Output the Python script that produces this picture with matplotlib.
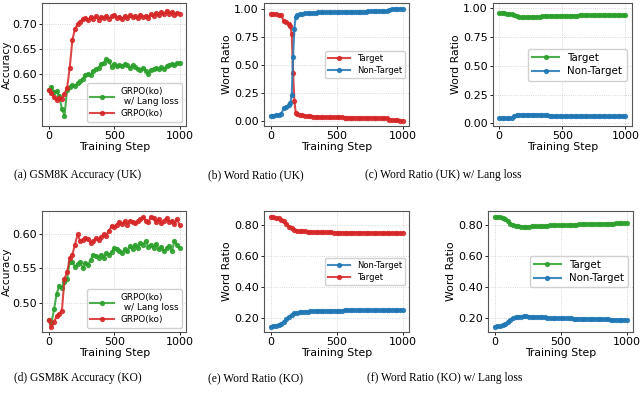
import matplotlib
matplotlib.use("Agg")
import matplotlib.pyplot as plt

# x axis (training step) for most series
steps = list(range(0, 1001, 20))
# panel (b) has extra points around the sharp switch
steps_b = [0, 20, 40, 60, 80, 100, 120, 140, 150, 160, 170, 180, 190] + list(range(200, 1001, 20))

# (a) GSM8K accuracy (UK)
acc_uk_lang = [0.567, 0.574, 0.563, 0.566, 0.555, 0.530, 0.516, 0.568, 0.573, 0.578,
               0.575, 0.582, 0.585, 0.590, 0.597, 0.600, 0.598, 0.606, 0.610, 0.612,
               0.620, 0.622, 0.630, 0.625, 0.614, 0.620, 0.616, 0.618, 0.615, 0.620,
               0.617, 0.612, 0.618, 0.613, 0.610, 0.608, 0.612, 0.606, 0.600, 0.608,
               0.610, 0.612, 0.609, 0.613, 0.610, 0.615, 0.618, 0.620, 0.617, 0.622, 0.621]
acc_uk_base = [0.567, 0.562, 0.553, 0.548, 0.552, 0.550, 0.560, 0.572, 0.612, 0.668,
               0.690, 0.700, 0.705, 0.710, 0.712, 0.708, 0.714, 0.711, 0.716, 0.709,
               0.714, 0.712, 0.717, 0.711, 0.716, 0.718, 0.713, 0.715, 0.710, 0.716,
               0.713, 0.718, 0.714, 0.716, 0.712, 0.719, 0.715, 0.717, 0.713, 0.720,
               0.716, 0.722, 0.718, 0.724, 0.720, 0.727, 0.721, 0.725, 0.719, 0.723, 0.721]

# (b) word ratio (UK)
ratio_uk_target = [0.955, 0.953, 0.950, 0.946, 0.940, 0.885, 0.876, 0.862, 0.840, 0.770,
                   0.430, 0.180, 0.072,
                   0.062, 0.053, 0.048, 0.044, 0.041, 0.039, 0.037, 0.036, 0.035, 0.034, 0.033,
                   0.033, 0.032, 0.032, 0.031, 0.031, 0.030, 0.030, 0.029, 0.029, 0.029,
                   0.028, 0.028, 0.028, 0.027, 0.027, 0.027, 0.026, 0.026, 0.026, 0.025,
                   0.025, 0.025, 0.024, 0.024, 0.010, 0.006, 0.004, 0.003, 0.002, 0.002]
ratio_uk_nontarget = [0.045, 0.047, 0.050, 0.055, 0.060, 0.115, 0.124, 0.138, 0.160, 0.230,
                      0.565, 0.820, 0.928,
                      0.938, 0.947, 0.952, 0.956, 0.959, 0.961, 0.963, 0.964, 0.965, 0.966, 0.967,
                      0.967, 0.968, 0.968, 0.969, 0.969, 0.970, 0.970, 0.971, 0.971, 0.971,
                      0.972, 0.972, 0.972, 0.973, 0.973, 0.973, 0.974, 0.974, 0.974, 0.975,
                      0.975, 0.975, 0.976, 0.976, 0.990, 0.994, 0.996, 0.997, 0.998, 0.998]

# (c) word ratio (UK) w/ lang loss
ratio_uk_lang_target = [0.955, 0.955, 0.955, 0.954, 0.953, 0.950, 0.940, 0.930, 0.926, 0.925,
                        0.925, 0.925, 0.925, 0.926, 0.926, 0.927, 0.928, 0.929, 0.931, 0.932,
                        0.933, 0.934, 0.934, 0.935, 0.935, 0.936, 0.936, 0.936, 0.937, 0.937,
                        0.937, 0.937, 0.938, 0.938, 0.938, 0.938, 0.938, 0.939, 0.939, 0.939,
                        0.939, 0.939, 0.939, 0.940, 0.940, 0.940, 0.940, 0.940, 0.940, 0.940, 0.940]
ratio_uk_lang_nontarget = [0.045, 0.045, 0.045, 0.046, 0.047, 0.050, 0.060, 0.070, 0.074, 0.075,
                           0.075, 0.075, 0.075, 0.074, 0.074, 0.073, 0.072, 0.071, 0.069, 0.068,
                           0.067, 0.066, 0.066, 0.065, 0.065, 0.064, 0.064, 0.064, 0.063, 0.063,
                           0.063, 0.063, 0.062, 0.062, 0.062, 0.062, 0.062, 0.061, 0.061, 0.061,
                           0.061, 0.061, 0.061, 0.060, 0.060, 0.060, 0.060, 0.060, 0.060, 0.060, 0.060]

# (d) GSM8K accuracy (KO)
acc_ko_lang = [0.474, 0.470, 0.490, 0.513, 0.525, 0.522, 0.530, 0.535, 0.560, 0.560,
               0.552, 0.557, 0.560, 0.550, 0.558, 0.555, 0.563, 0.570, 0.568, 0.566,
               0.570, 0.566, 0.572, 0.570, 0.574, 0.580, 0.578, 0.576, 0.573, 0.578,
               0.575, 0.583, 0.578, 0.585, 0.580, 0.588, 0.585, 0.590, 0.582, 0.585,
               0.580, 0.586, 0.578, 0.582, 0.575, 0.580, 0.583, 0.575, 0.590, 0.585, 0.580]
acc_ko_base = [0.474, 0.465, 0.472, 0.480, 0.484, 0.488, 0.535, 0.545, 0.565, 0.570,
               0.585, 0.600, 0.590, 0.592, 0.595, 0.593, 0.588, 0.590, 0.594, 0.592,
               0.596, 0.600, 0.598, 0.605, 0.612, 0.610, 0.614, 0.618, 0.615, 0.619,
               0.614, 0.620, 0.618, 0.616, 0.620, 0.622, 0.625, 0.620, 0.618, 0.626,
               0.624, 0.618, 0.622, 0.616, 0.620, 0.624, 0.618, 0.620, 0.615, 0.622, 0.613]

# (e) word ratio (KO)
ratio_ko_nontarget = [0.142, 0.145, 0.149, 0.154, 0.162, 0.174, 0.190, 0.207, 0.219, 0.228,
                      0.233, 0.236, 0.238, 0.239, 0.240, 0.241, 0.242, 0.243, 0.243, 0.244,
                      0.244, 0.245, 0.245, 0.245, 0.246, 0.246, 0.246, 0.246, 0.247, 0.247,
                      0.247, 0.247, 0.247, 0.248, 0.248, 0.248, 0.248, 0.248, 0.249, 0.249,
                      0.249, 0.249, 0.249, 0.249, 0.250, 0.250, 0.250, 0.250, 0.250, 0.250, 0.250]
ratio_ko_target = [0.858, 0.855, 0.851, 0.846, 0.838, 0.826, 0.810, 0.793, 0.781, 0.772,
                   0.767, 0.764, 0.762, 0.761, 0.760, 0.759, 0.758, 0.757, 0.757, 0.756,
                   0.756, 0.755, 0.755, 0.755, 0.754, 0.754, 0.754, 0.754, 0.753, 0.753,
                   0.753, 0.753, 0.753, 0.752, 0.752, 0.752, 0.752, 0.752, 0.751, 0.751,
                   0.751, 0.751, 0.751, 0.751, 0.750, 0.750, 0.750, 0.750, 0.750, 0.750, 0.750]

# (f) word ratio (KO) w/ lang loss
ratio_ko_lang_target = [0.855, 0.854, 0.852, 0.848, 0.840, 0.826, 0.810, 0.800, 0.794, 0.791,
                        0.790, 0.789, 0.789, 0.790, 0.791, 0.792, 0.793, 0.794, 0.795, 0.796,
                        0.797, 0.798, 0.799, 0.799, 0.800, 0.800, 0.801, 0.801, 0.802, 0.802,
                        0.803, 0.803, 0.804, 0.804, 0.805, 0.805, 0.806, 0.806, 0.807, 0.807,
                        0.808, 0.808, 0.809, 0.809, 0.810, 0.810, 0.811, 0.811, 0.812, 0.812, 0.812]
ratio_ko_lang_nontarget = [0.145, 0.146, 0.148, 0.152, 0.160, 0.174, 0.190, 0.200, 0.206, 0.209,
                           0.210, 0.211, 0.211, 0.210, 0.209, 0.208, 0.207, 0.206, 0.205, 0.204,
                           0.203, 0.202, 0.201, 0.201, 0.200, 0.200, 0.199, 0.199, 0.198, 0.198,
                           0.197, 0.197, 0.196, 0.196, 0.195, 0.195, 0.194, 0.194, 0.193, 0.193,
                           0.192, 0.192, 0.191, 0.191, 0.190, 0.190, 0.189, 0.189, 0.188, 0.188, 0.188]

captions = ["(a) GSM8K Accuracy (UK)", "(b) Word Ratio (UK)", "(c) Word Ratio (UK) w/ Lang loss",
            "(d) GSM8K Accuracy (KO)", "(e) Word Ratio (KO)", "(f) Word Ratio (KO) w/ Lang loss"]

RED = "#d62728"
GREEN = "#2ca02c"
BLUE = "#1f77b4"

plt.rcParams["font.family"] = "DejaVu Sans"
plt.rcParams["font.size"] = 8

fig = plt.figure(figsize=(6.4, 3.93), dpi=100)

# axes boxes in figure fractions [left, bottom, width, height]
boxes = [
    [0.066, 0.679, 0.225, 0.313],
    [0.4125, 0.679, 0.227, 0.313],
    [0.770, 0.679, 0.217, 0.313],
    [0.066, 0.155, 0.225, 0.308],
    [0.4125, 0.155, 0.227, 0.308],
    [0.7625, 0.155, 0.227, 0.308],
]
caption_x = [78, 256, 443, 78, 255, 445]
caption_y = [175, 175, 175, 378, 378, 378]


def draw(ax, series, yticks, legend_loc, legend_size):
    for x, y, c, lab in series:
        ax.plot(x, y, color=c, marker="o", markersize=2.8, linewidth=1.5,
                alpha=0.85, label=lab)
    ax.set_xticks([0, 500, 1000])
    ax.set_yticks(yticks)
    ax.yaxis.set_major_formatter(matplotlib.ticker.FormatStrFormatter("%.2f"))
    ax.grid(True, linestyle=":", color="#cccccc", linewidth=0.6)
    ax.tick_params(labelsize=8.0, length=2.5, width=0.6, pad=1.2)
    ax.set_xlabel("Training Step", fontsize=7.8, labelpad=0.5)
    for s in ax.spines.values():
        s.set_color("#555555")
        s.set_linewidth(0.8)
    ax.legend(loc=legend_loc, fontsize=legend_size, handlelength=2.6,
              borderpad=0.4, labelspacing=0.35, framealpha=0.9)


axs = [fig.add_axes(b) for b in boxes]

draw(axs[0], [(steps, acc_uk_lang, GREEN, "GRPO(ko)\n w/ Lang loss"),
              (steps, acc_uk_base, RED, "GRPO(ko)")],
     [0.55, 0.60, 0.65, 0.70], "lower right", 6.4)
axs[0].set_ylabel("Accuracy", fontsize=7.6, labelpad=0.3)
axs[0].set_ylim(0.495, 0.742)

draw(axs[1], [(steps_b, ratio_uk_target, RED, "Target"),
              (steps_b, ratio_uk_nontarget, BLUE, "Non-Target")],
     [0.0, 0.25, 0.5, 0.75, 1.0], "center right", 6.0)
axs[1].set_ylabel("Word Ratio", fontsize=7.8, labelpad=1.5)

draw(axs[2], [(steps, ratio_uk_lang_target, GREEN, "Target"),
              (steps, ratio_uk_lang_nontarget, BLUE, "Non-Target")],
     [0.0, 0.25, 0.5, 0.75, 1.0], "center right", 7.4)
axs[2].set_ylabel("Word Ratio", fontsize=7.8, labelpad=1.5)
axs[2].set_ylim(-0.025, 1.045)

draw(axs[3], [(steps, acc_ko_lang, GREEN, "GRPO(ko)\n w/ Lang loss"),
              (steps, acc_ko_base, RED, "GRPO(ko)")],
     [0.50, 0.55, 0.60], "lower right", 6.4)
axs[3].set_ylabel("Accuracy", fontsize=7.6, labelpad=0.3)

draw(axs[4], [(steps, ratio_ko_nontarget, BLUE, "Non-Target"),
              (steps, ratio_ko_target, RED, "Target")],
     [0.2, 0.4, 0.6, 0.8], "center right", 6.0)
axs[4].set_ylabel("Word Ratio", fontsize=7.8, labelpad=1.5)

draw(axs[5], [(steps, ratio_ko_lang_target, GREEN, "Target"),
              (steps, ratio_ko_lang_nontarget, BLUE, "Non-Target")],
     [0.2, 0.4, 0.6, 0.8], "center right", 7.4)
axs[5].set_ylabel("Word Ratio", fontsize=7.8, labelpad=1.5)

for cap, cx, cy in zip(captions, caption_x, caption_y):
    fig.text(cx / 640, 1 - cy / 393, cap, ha="center", va="center",
             fontsize=8.3, family="Liberation Serif")

fig.savefig("out.png", dpi=100)
